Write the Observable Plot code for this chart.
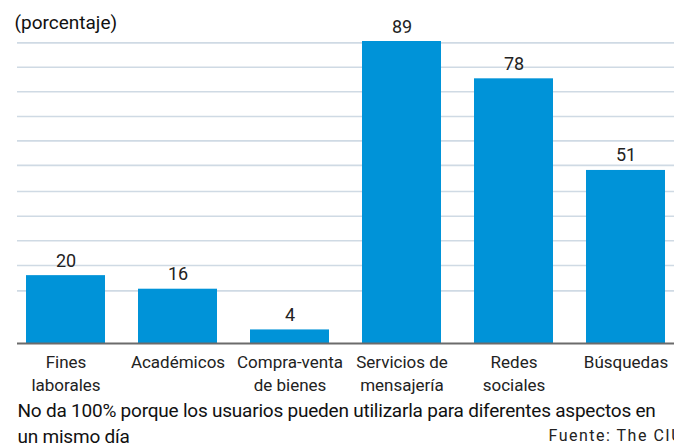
<!DOCTYPE html>
<html>
<head>
<meta charset="utf-8">
<script src="https://cdn.jsdelivr.net/npm/d3@7"></script>
<script src="https://cdn.jsdelivr.net/npm/@observablehq/plot@0.6"></script>
<style>
  html, body { margin: 0; padding: 0; background: #fff; overflow: hidden; }
  #chart svg { display: block; font-family: Roboto, "Noto Sans", sans-serif; }
</style>
</head>
<body>
<div id="chart"></div>
<script>
const categories = ["Fines laborales", "Académicos", "Compra-venta de bienes", "Servicios de mensajería", "Redes sociales", "Búsquedas"];
const tickLabels = ["Fines\nlaborales", "Académicos", "Compra-venta\nde bienes", "Servicios de\nmensajería", "Redes\nsociales", "Búsquedas"];
const values = [20, 16, 4, 89, 78, 51];
const gridValues = [15.5, 23.0, 30.3, 37.5, 44.8, 52.5, 59.7, 66.9, 74.2, 81.4, 88.6];
const titleText = "(porcentaje)";
const captionText = "No da 100% porque los usuarios pueden utilizarla para diferentes aspectos en\nun mismo día";
const sourceText = "Fuente: The CIU";

const data = categories.map((c, i) => ({cat: c, value: values[i], label: tickLabels[i]}));

const chart = Plot.plot({
  width: 674,
  height: 447,
  marginLeft: 17,
  marginRight: 0,
  marginTop: 41,
  marginBottom: 104,
  style: {fontFamily: "Roboto, sans-serif", background: "#fff"},
  x: {domain: categories, paddingInner: 0.296, paddingOuter: 0.076, axis: null, label: null},
  y: {domain: [0, 89], axis: null},
  marks: [
    Plot.ruleY(gridValues, {stroke: "#cfdae4", strokeWidth: 1.6}),
    Plot.barY(data, {x: "cat", y: "value", fill: "#0093d8"}),
    Plot.ruleY([0], {stroke: "#6b6b6b", strokeWidth: 2}),
    Plot.text(data, {x: "cat", y: "value", text: d => String(d.value), dy: -9, lineAnchor: "bottom", fontSize: 18, fill: "#222"}),
    Plot.axisX({label: null, tickSize: 0, tickPadding: 8, tickFormat: d => tickLabels[categories.indexOf(d)], fontSize: 17, lineHeight: 1.35, fill: "#222", stroke: null}),
    Plot.text([titleText], {frameAnchor: "top-left", dx: -3, dy: -19, lineAnchor: "middle", textAnchor: "start", fontSize: 19, fill: "#111"}),
    Plot.text([captionText], {frameAnchor: "bottom-left", dx: 0, dy: 55, lineAnchor: "top", textAnchor: "start", fontSize: 19, lineHeight: 1.36, fill: "#111"}),
    Plot.text([sourceText], {frameAnchor: "bottom-left", dx: 531, dy: 86, lineAnchor: "top", textAnchor: "start", fontSize: 16, fill: "#222"})
  ]
});
// fine-tune letter spacing of the caption and source lines
d3.select(chart).selectAll("text").each(function() {
  const t = this.textContent;
  if (t.startsWith("No da") || t === "un mismo día" || t.startsWith("No da 100%")) {
    d3.select(this).style("letter-spacing", "-0.22px");
  }
  if (t === sourceText) {
    d3.select(this).style("letter-spacing", "1.5px");
  }
});
document.getElementById("chart").appendChild(chart);
</script>
</body>
</html>
